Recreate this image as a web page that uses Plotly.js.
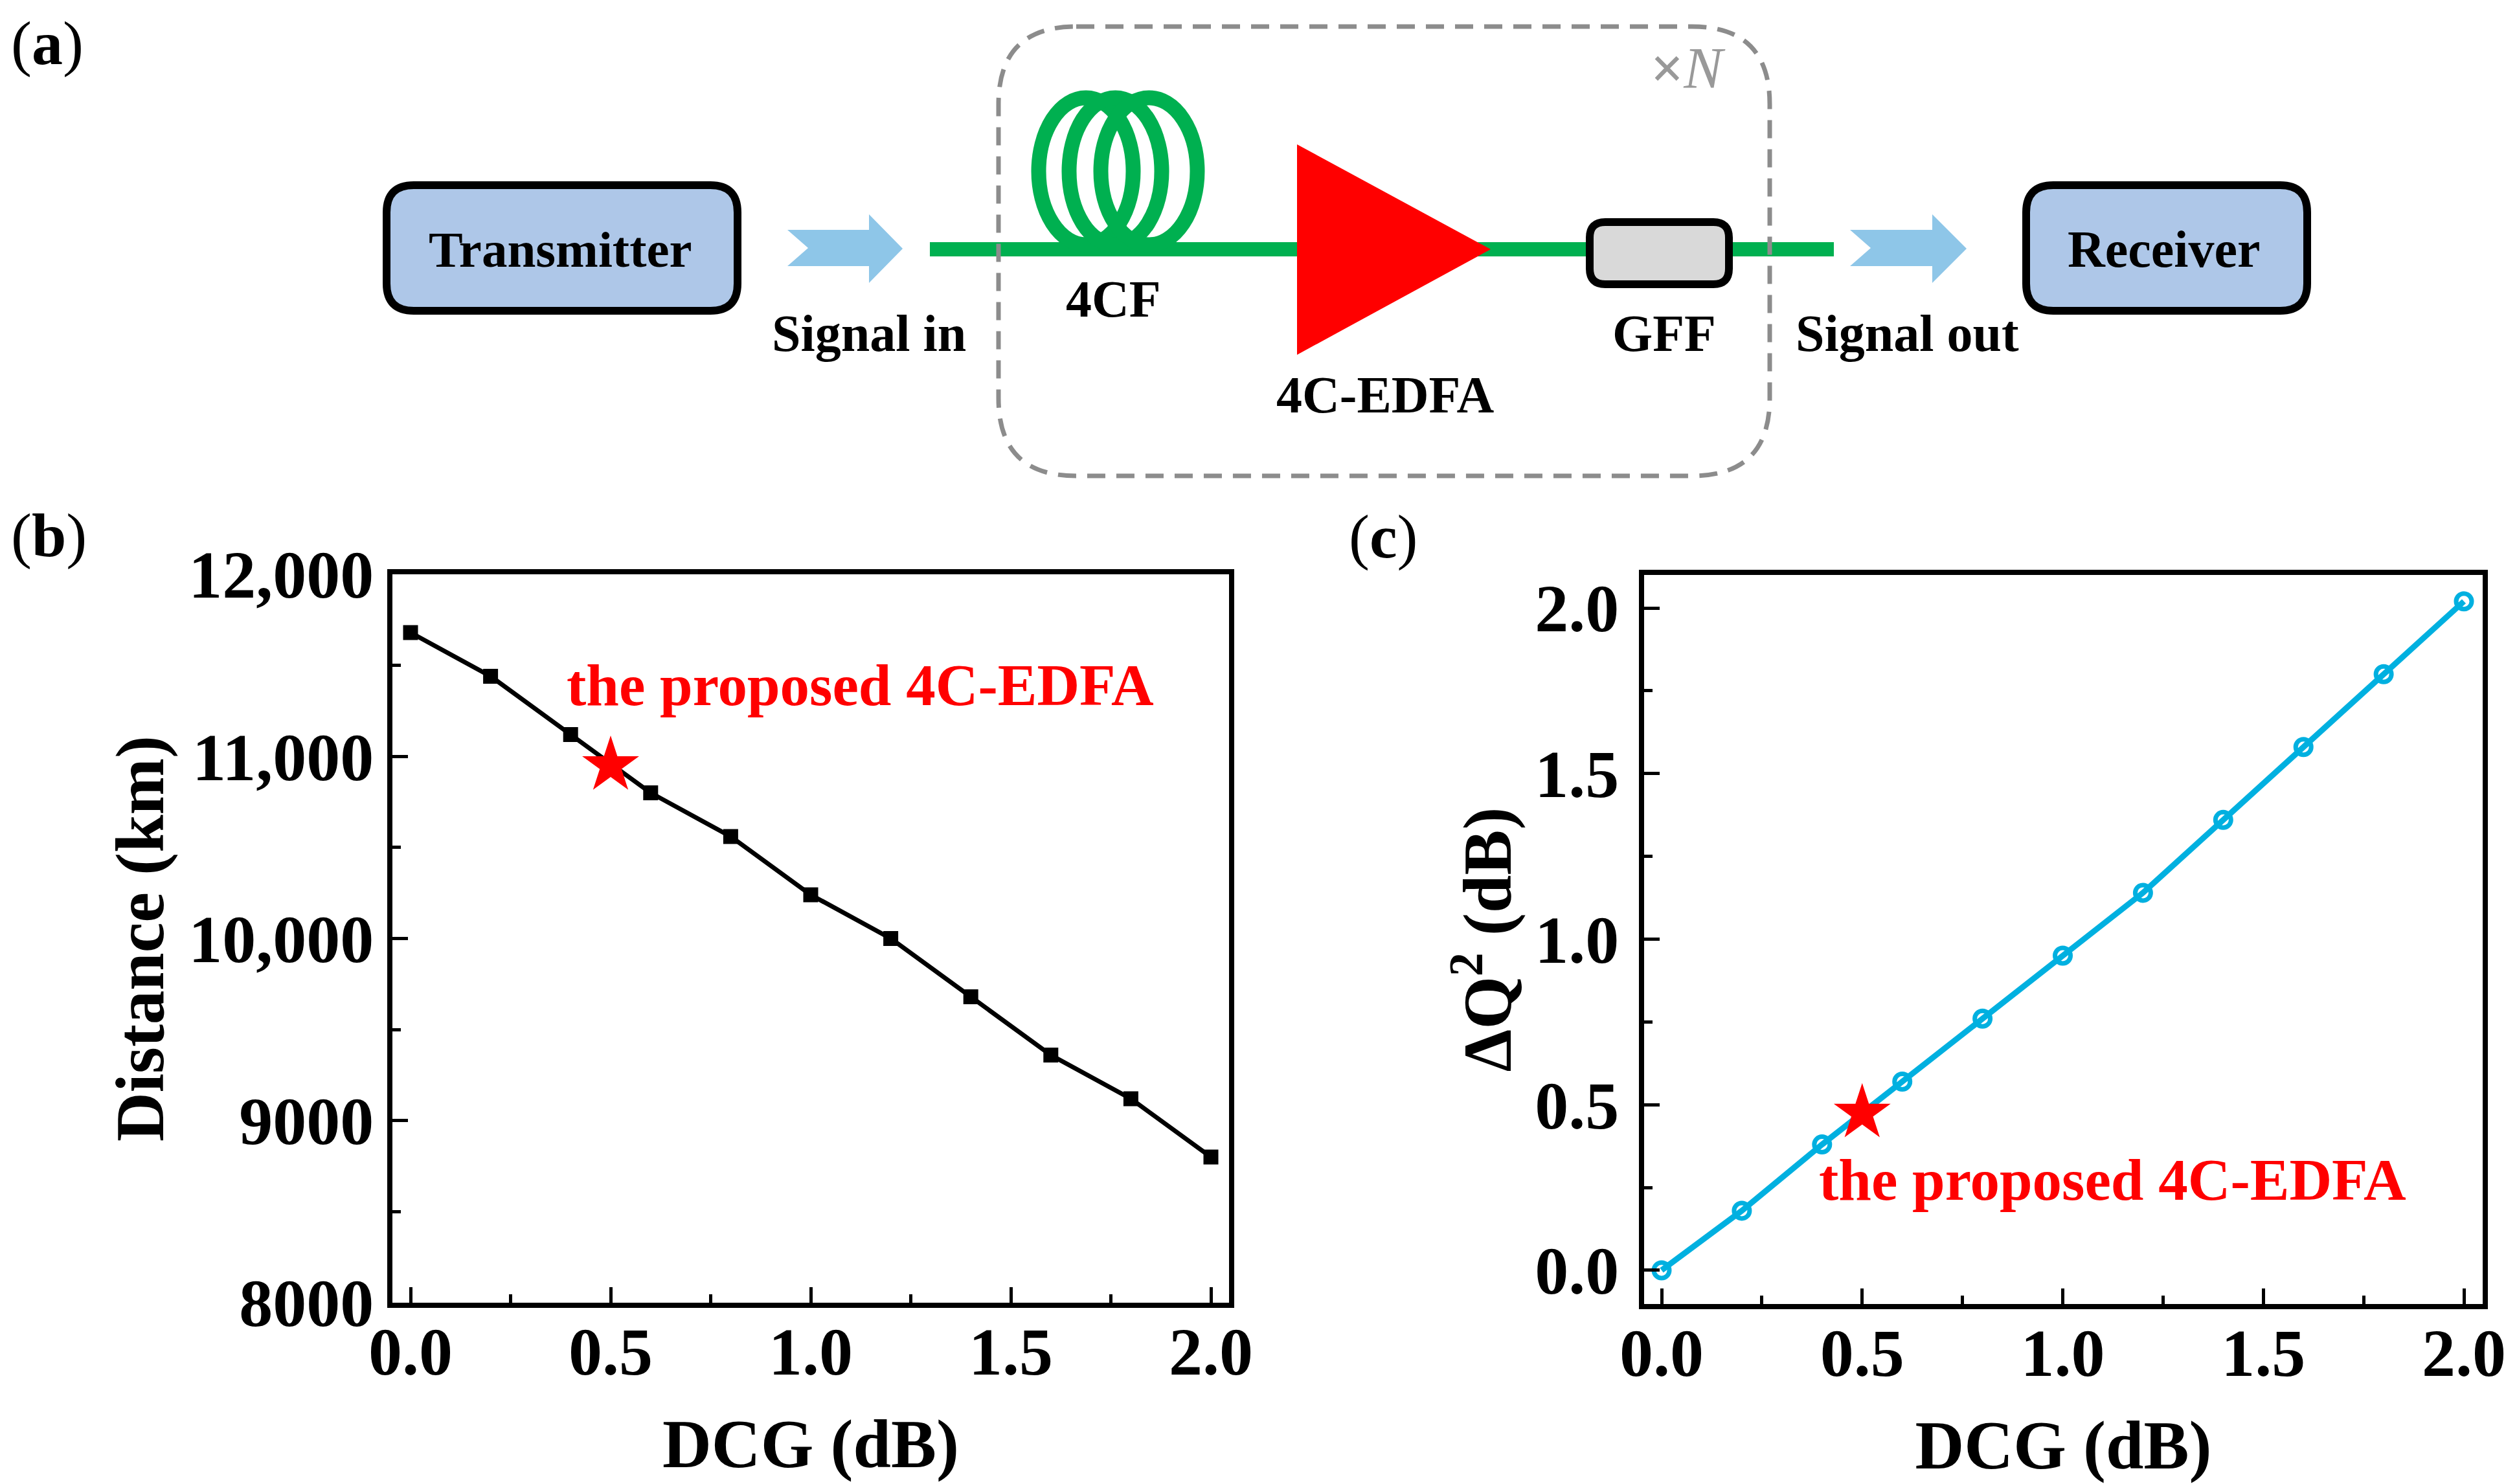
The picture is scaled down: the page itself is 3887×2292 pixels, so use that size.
<!DOCTYPE html>
<html>
<head>
<meta charset="utf-8">
<script src="https://cdn.plot.ly/plotly-3.0.1.min.js"></script>
<style>html,body{margin:0;padding:0;background:#fff}</style>
</head>
<body>
<div id="chart" style="width:3887px;height:2292px"></div>
<script>
const SERIF = '"Liberation Serif","Times New Roman",serif';
const W = 3887, H = 2292;

// chart values
const dcg = [0, 0.2, 0.4, 0.6, 0.8, 1.0, 1.2, 1.4, 1.6, 1.8, 2.0];
const distanceKm = [11680, 11440, 11120, 10800, 10560, 10240, 10000, 9680, 9360, 9120, 8800];
const deltaQ2 = [0, 0.18, 0.38, 0.57, 0.76, 0.95, 1.14, 1.36, 1.58, 1.80, 2.02];
const starDcg = [0.5];
const starDistance = [10950];
const starDeltaQ2 = [0.475];
const distanceTickVals = [8000, 9000, 10000, 11000, 12000];
const distanceTickText = ['8000', '9000', '10,000', '11,000', '12,000'];
const xTickVals = [0, 0.5, 1, 1.5, 2];
const xTickText = ['0.0', '0.5', '1.0', '1.5', '2.0'];
const qTickVals = [0, 0.5, 1, 1.5, 2];
const qTickText = ['0.0', '0.5', '1.0', '1.5', '2.0'];

// schematic drawn in a full-page axis (x3/y3)
const S = {xref: 'x3', yref: 'y3'};
function roundRect(x0, y0, x1, y1, r) {
  return `M${x0 + r},${y0} L${x1 - r},${y0} Q${x1},${y0} ${x1},${y0 + r} L${x1},${y1 - r} Q${x1},${y1} ${x1 - r},${y1} L${x0 + r},${y1} Q${x0},${y1} ${x0},${y1 - r} L${x0},${y0 + r} Q${x0},${y0} ${x0 + r},${y0} Z`;
}
function blockArrow(x0, notch, base, tip) {
  return `M${x0},355 L${base},355 L${base},331 L${tip},384 L${base},437 L${base},411 L${x0},411 L${notch},383 Z`;
}
const coil = (x0, x1) => ({type: 'circle', ...S, x0, x1, y0: 151, y1: 378, line: {color: '#00B050', width: 23}, fillcolor: 'rgba(0,0,0,0)'});
const box = (x0, y0, x1, y1, r, fill) => ({type: 'path', ...S, path: roundRect(x0, y0, x1, y1, r), fillcolor: fill, line: {color: '#000', width: 12}});
const arrow = (a, b, c, d) => ({type: 'path', ...S, path: blockArrow(a, b, c, d), fillcolor: '#8EC6E8', line: {width: 0}});

const shapes = [
  coil(1604, 1750), coil(1651, 1794), coil(1700, 1849),
  box(597, 286, 1139, 480, 42, '#AEC7E8'),
  box(3129, 286, 3563, 480, 42, '#AEC7E8'),
  arrow(1216, 1248, 1342, 1394),
  arrow(2857, 2889, 2984, 3037),
  {type: 'path', ...S, path: 'M2003,223 L2302,385 L2003,548 Z', fillcolor: '#FF0000', line: {width: 0}},
  box(2455, 343, 2670, 439, 24, '#D9D9D9'),
  {type: 'path', ...S, path: roundRect(1542, 41, 2733, 735, 120), fillcolor: 'rgba(0,0,0,0)', line: {color: '#8C8C8C', width: 7, dash: '28px,17px'}}
];

const txt = (text, x, y, size, opt) => Object.assign({
  text: '<b>' + text + '</b>', x, y, xref: 'x3', yref: 'y3', showarrow: false,
  xanchor: 'center', yanchor: 'middle', font: {family: SERIF, size, color: '#000'}
}, opt || {});
const red = {font: {family: SERIF, size: 91, color: '#FF0000'}};
const panel = (text, x, y) => ({text: '(<b>' + text + '</b>)', x, y, xref: 'x3', yref: 'y3', showarrow: false, xanchor: 'center', yanchor: 'middle', font: {family: SERIF, size: 96, color: '#000'}});

const annotations = [
  txt('Transmitter', 865, 385, 79),
  txt('Receiver', 3342, 385, 80),
  txt('Signal in', 1342, 515, 80),
  txt('Signal out', 2945, 515, 80),
  txt('4CF', 1719, 462, 80),
  txt('GFF', 2570, 515, 80),
  txt('4C-EDFA', 2139, 610, 80),
  {text: '<b>×</b><i>N</i>', x: 2607, y: 105, xref: 'x3', yref: 'y3', showarrow: false, xanchor: 'center', yanchor: 'middle',
   font: {family: SERIF, size: 90, color: '#999999'}},
  panel('a', 73, 66),
  panel('b', 75, 826),
  panel('c', 2136, 828),
  txt('the proposed 4C-EDFA', 1328, 1058, 91, red),
  txt('the proposed 4C-EDFA', 3262, 1822, 91, red)
];

const tickFont = {family: SERIF, size: 104, color: '#000', weight: 'bold'};
const titleFont = {family: SERIF, size: 105, color: '#000'};
function xAxis(domain, anchor, range) {
  return {
    domain, anchor, range, tickmode: 'array', tickvals: xTickVals, ticktext: xTickText,
    ticks: 'inside', ticklen: 24, tickwidth: 5, tickcolor: '#000', tickfont: tickFont, ticklabelstandoff: -22,
    minor: {tickmode: 'array', tickvals: [0.25, 0.75, 1.25, 1.75], ticks: 'inside', ticklen: 13, tickwidth: 5, tickcolor: '#000'},
    showline: true, linecolor: '#000', linewidth: 8, mirror: true, showgrid: false, zeroline: false,
    title: {text: '<b>DCG (dB)</b>', font: titleFont, standoff: 52}
  };
}
function yAxis(domain, anchor, range, vals, text, minors, title, labelGap, titleGap) {
  return {
    domain, anchor, range, tickmode: 'array', tickvals: vals, ticktext: text,
    ticks: 'inside', ticklen: 24, tickwidth: 5, tickcolor: '#000', tickfont: tickFont, ticklabelstandoff: labelGap,
    minor: {tickmode: 'array', tickvals: minors, ticks: 'inside', ticklen: 13, tickwidth: 5, tickcolor: '#000'},
    showline: true, linecolor: '#000', linewidth: 8, mirror: true, showgrid: false, zeroline: false,
    title: {text: title, font: titleFont, standoff: titleGap}
  };
}
const fx = (a, b) => [a / W, b / W];
const fy = (top, bottom) => [1 - bottom / H, 1 - top / H];

const layout = {
  width: W, height: H, margin: {l: 0, r: 0, t: 0, b: 0, pad: 0},
  paper_bgcolor: '#fff', plot_bgcolor: 'rgba(0,0,0,0)', showlegend: false,
  xaxis: xAxis(fx(606, 1898), 'y', [-0.0453, 2.0453]),
  yaxis: yAxis(fy(887, 2012), 'x', [8000, 12000], distanceTickVals, distanceTickText, [8500, 9500, 10500, 11500], '<b>Distance (km)</b>', 0, 6),
  xaxis2: xAxis(fx(2539, 3834), 'y2', [-0.0436, 2.0468]),
  yaxis2: yAxis(fy(888, 2014), 'x2', [-0.1017, 2.0997], qTickVals, qTickText, [0.25, 0.75, 1.25, 1.75], '<b>ΔQ<sup>2</sup> (dB)</b>', 10, 4),
  xaxis3: {domain: [0, 1], range: [0, W], visible: false, anchor: 'y3', fixedrange: true},
  yaxis3: {domain: [0, 1], range: [H, 0], visible: false, anchor: 'x3', fixedrange: true},
  shapes, annotations
};

const traces = [
  {x: [1436, 2832], y: [385, 385], xaxis: 'x3', yaxis: 'y3', mode: 'lines', line: {color: '#00B050', width: 22}, hoverinfo: 'skip'},
  {x: dcg, y: distanceKm, xaxis: 'x', yaxis: 'y', mode: 'lines+markers', cliponaxis: false,
   line: {color: '#000', width: 7}, marker: {symbol: 'square', size: 23, color: '#000'}},
  {x: starDcg, y: starDistance, xaxis: 'x', yaxis: 'y', mode: 'markers', marker: {symbol: 'star', size: 66, color: '#FF0000'}},
  {x: dcg, y: deltaQ2, xaxis: 'x2', yaxis: 'y2', mode: 'lines+markers', cliponaxis: false,
   line: {color: '#00B0E0', width: 9}, marker: {symbol: 'circle-open', size: 24, color: '#00B0E0', line: {color: '#00B0E0', width: 7}}},
  {x: starDcg, y: starDeltaQ2, xaxis: 'x2', yaxis: 'y2', mode: 'markers', marker: {symbol: 'star', size: 66, color: '#FF0000'}}
];

Plotly.newPlot('chart', traces, layout, {displayModeBar: false, responsive: false});
</script>
</body>
</html>
